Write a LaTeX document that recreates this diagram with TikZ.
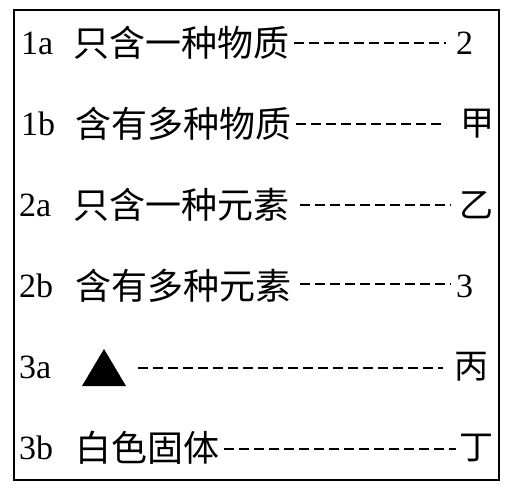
\documentclass[tikz,border=0pt]{standalone}
\usepackage{fontspec}
\setmainfont{Liberation Serif}
\newfontfamily\cjk{Noto Sans CJK SC}
\begin{document}
\begin{tikzpicture}[x=1pt,y=-1pt,
  lbl/.style={anchor=west,inner sep=0pt,font=\fontsize{34}{34}\selectfont},
  cn/.style={anchor=west,inner sep=0pt,font=\fontsize{36}{36}\selectfont\cjk},
  rt/.style={anchor=west,inner sep=0pt,font=\fontsize{34}{34}\selectfont},
  rtc/.style={anchor=west,inner sep=0pt,font=\fontsize{34}{34}\selectfont\cjk},
  dashln/.style={line width=1.4pt,dash pattern=on 10pt off 5pt}]
\useasboundingbox (0,0) rectangle (510,492);
\draw[line width=1.6pt] (14,10) rectangle (499,480);
% row 1
\node[lbl] (l1) at (21,43) {1a};
\node[cn] (t1) at (73,43) {只含一种物质};
\node[rt] (r1) at (456,43) {2};
\coordinate (d1s) at (294,43); \coordinate (d1e) at (446,43);
\draw[dashln] (d1s) -- (d1e);
% row 2
\node[lbl] (l2) at (21,124) {1b};
\node[cn] (t2) at (75,124) {含有多种物质};
\node[rtc] (r2) at (460,124) {甲};
\coordinate (d2s) at (296,124); \coordinate (d2e) at (446,124);
\draw[dashln] (d2s) -- (d2e);
% row 3
\node[lbl] (l3) at (19,205) {2a};
\node[cn] (t3) at (73,205) {只含一种元素};
\node[rtc] (r3) at (459,205) {乙};
\coordinate (d3s) at (300,205); \coordinate (d3e) at (451,205);
\draw[dashln] (d3s) -- (d3e);
% row 4
\node[lbl] (l4) at (19,286) {2b};
\node[cn] (t4) at (75,286) {含有多种元素};
\node[rt] (r4) at (456,286) {3};
\coordinate (d4s) at (300,284); \coordinate (d4e) at (451,284);
\draw[dashln] (d4s) -- (d4e);
% row 5
\node[lbl] (l5) at (19,367) {3a};
\fill (82,386) -- (104,349) -- (126,386) -- cycle;
\node[rtc] (r5) at (454,367) {丙};
\coordinate (d5s) at (138,368); \coordinate (d5e) at (443,368);
\draw[dashln] (d5s) -- (d5e);
% row 6
\node[lbl] (l6) at (19,448) {3b};
\node[cn] (t6) at (75,448) {白色固体};
\node[rtc] (r6) at (459,448) {丁};
\coordinate (d6s) at (224,449); \coordinate (d6e) at (456,449);
\draw[dashln] (d6s) -- (d6e);
\end{tikzpicture}
\end{document}
